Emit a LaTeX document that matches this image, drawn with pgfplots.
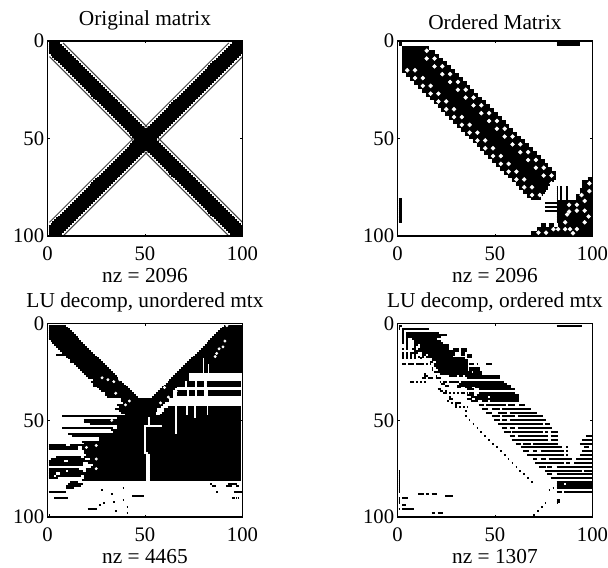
\documentclass[border=0pt]{standalone}
\usepackage{pgfplots}
\pgfplotsset{compat=1.18}
\usepackage{fontspec}
\setmainfont{Liberation Serif}
\newcommand\ft{\fontsize{16}{18}\selectfont}
\newcommand\ftk{\fontsize{15.5}{17}\selectfont}
\tikzset{spyrow/.style={black,line width=1.46pt},
 hole/.style={only marks,mark=*,mark size=1.45pt,white,mark options={draw=none,fill=white}}}
\pgfplotsset{spyaxis/.style={scale only axis,width=146.25pt,xmin=0,xmax=100,ymin=0,ymax=100,y dir=reverse,
 xtick={0,50,100},ytick={0,50,100},tick align=inside,major tick length=1.8pt,axis on top,
 axis line style={line width=0.9pt},tick style={black,line width=0.6pt},
 ticklabel style={font=\ftk},/pgf/number format/assume math mode=true,
 xticklabel style={yshift=-4.5pt},yticklabel style={xshift=1pt},
 title style={font=\ft,yshift=-1pt},xlabel style={font=\ft,yshift=1pt},
 runs/.style={spyrow,quiver={u=\thisrow{b}-\thisrow{a}+0.84,v=0}}}}
\begin{document}
\begin{tikzpicture}
\useasboundingbox (0,0) rectangle (456pt,426pt);
% ---------- Original matrix
\begin{axis}[spyaxis,height=146.25pt,at={(35.6pt,249pt)},anchor=south west,title={Original matrix},xlabel={nz = 2096}]
\addplot[black!75,line width=0.75pt,unbounded coords=jump] coordinates {(8,1)(100,93)(nan,nan)(1,8)(93,100)(nan,nan)(93,1)(1,93)(nan,nan)(100,8)(8,100)};
\addplot[runs] table[x expr=\thisrow{a}-0.42,y=r,row sep=\\] {a b r\\
1 6 1\\95 100 1\\1 7 2\\94 100 2\\1 8 3\\93 100 3\\1 9 4\\92 100 4\\1 10 5\\91 100 5\\1 11 6\\90 100 6\\2 12 7\\89 99 7\\3 13 8\\88 98 8\\4 14 9\\87 97 9\\5 15 10\\86 96 10\\
6 16 11\\85 95 11\\7 17 12\\84 94 12\\8 18 13\\83 93 13\\9 19 14\\82 92 14\\10 20 15\\81 91 15\\11 21 16\\80 90 16\\12 22 17\\79 89 17\\13 23 18\\78 88 18\\14 24 19\\77 87 19\\15 25 20\\76 86 20\\
16 26 21\\75 85 21\\17 27 22\\74 84 22\\18 28 23\\73 83 23\\19 29 24\\72 82 24\\20 30 25\\71 81 25\\21 31 26\\70 80 26\\22 32 27\\69 79 27\\23 33 28\\68 78 28\\24 34 29\\67 77 29\\25 35 30\\66 76 30\\
26 36 31\\65 75 31\\27 37 32\\64 74 32\\28 38 33\\63 73 33\\29 39 34\\62 72 34\\30 40 35\\61 71 35\\31 41 36\\60 70 36\\32 42 37\\59 69 37\\33 43 38\\58 68 38\\34 44 39\\57 67 39\\35 45 40\\56 66 40\\
36 46 41\\55 65 41\\37 47 42\\54 64 42\\38 48 43\\53 63 43\\39 49 44\\52 62 44\\40 61 45\\41 60 46\\42 59 47\\43 58 48\\44 57 49\\45 56 50\\45 56 51\\44 57 52\\43 58 53\\42 59 54\\41 60 55\\40 61 56\\
39 49 57\\52 62 57\\38 48 58\\53 63 58\\37 47 59\\54 64 59\\36 46 60\\55 65 60\\35 45 61\\56 66 61\\34 44 62\\57 67 62\\33 43 63\\58 68 63\\32 42 64\\59 69 64\\31 41 65\\60 70 65\\
30 40 66\\61 71 66\\29 39 67\\62 72 67\\28 38 68\\63 73 68\\27 37 69\\64 74 69\\26 36 70\\65 75 70\\25 35 71\\66 76 71\\24 34 72\\67 77 72\\23 33 73\\68 78 73\\22 32 74\\69 79 74\\21 31 75\\70 80 75\\
20 30 76\\71 81 76\\19 29 77\\72 82 77\\18 28 78\\73 83 78\\17 27 79\\74 84 79\\16 26 80\\75 85 80\\15 25 81\\76 86 81\\14 24 82\\77 87 82\\13 23 83\\78 88 83\\12 22 84\\79 89 84\\11 21 85\\80 90 85\\
10 20 86\\81 91 86\\9 19 87\\82 92 87\\8 18 88\\83 93 88\\7 17 89\\84 94 89\\6 16 90\\85 95 90\\5 15 91\\86 96 91\\4 14 92\\87 97 92\\3 13 93\\88 98 93\\2 12 94\\89 99 94\\1 11 95\\90 100 95\\
1 10 96\\91 100 96\\1 9 97\\92 100 97\\1 8 98\\93 100 98\\1 7 99\\94 100 99\\1 6 100\\95 100 100\\
};
\end{axis}
% ---------- Ordered matrix
\begin{axis}[spyaxis,height=146.25pt,at={(298.1pt,249pt)},anchor=south west,title={Ordered Matrix},xlabel={nz = 2096}]
\addplot[runs] table[x expr=\thisrow{a}-0.42,y=r,row sep=\\] {a b r\\
1 2 1\\82 93 1\\1 2 2\\82 93 2\\3 16 3\\3 16 4\\3 19 5\\3 19 6\\3 21 7\\3 21 8\\3 23 9\\3 23 10\\3 25 11\\3 25 12\\3 27 13\\3 27 14\\3 29 15\\3 29 16\\5 31 17\\5 31 18\\7 33 19\\7 33 20\\
9 35 21\\9 35 22\\11 37 23\\11 37 24\\13 39 25\\13 39 26\\15 41 27\\15 41 28\\17 43 29\\17 43 30\\19 45 31\\19 45 32\\21 47 33\\21 47 34\\23 49 35\\23 49 36\\25 51 37\\25 51 38\\27 53 39\\27 53 40\\
29 55 41\\29 55 42\\31 57 43\\31 57 44\\33 59 45\\33 59 46\\35 61 47\\35 61 48\\37 63 49\\37 63 50\\39 65 51\\39 65 52\\41 67 53\\41 67 54\\43 69 55\\43 69 56\\45 71 57\\45 71 58\\47 73 59\\47 73 60\\
49 75 61\\49 75 62\\51 77 63\\51 77 64\\53 79 65\\53 79 66\\55 81 67\\55 81 68\\57 81 69\\57 81 70\\59 81 71\\59 80 72\\61 79 73\\61 78 74\\63 77 75\\63 77 76\\65 76 77\\65 75 78\\67 74 79\\67 73 80\\69 73 81\\
98 100 70\\98 100 71\\95 100 72\\95 100 73\\95 100 74\\95 100 75\\94 100 76\\94 100 77\\94 100 78\\92 100 79\\92 100 80\\92 100 81\\
82 82 75\\84 84 75\\87 87 75\\82 82 76\\84 84 76\\87 87 76\\82 82 77\\84 84 77\\87 87 77\\82 82 78\\84 84 78\\87 87 78\\82 82 79\\84 84 79\\87 87 79\\82 82 80\\84 84 80\\87 87 80\\82 82 81\\84 84 81\\87 87 81\\
82 100 82\\76 100 83\\82 100 84\\76 100 85\\82 100 86\\76 100 87\\82 100 88\\82 100 89\\82 100 90\\82 100 91\\82 100 92\\82 100 93\\74 76 94\\78 80 94\\83 100 94\\74 76 95\\78 80 95\\83 100 95\\72 100 96\\72 100 97\\69 100 98\\69 100 99\\69 100 100\\
1 2 81\\1 2 82\\1 2 83\\1 2 84\\1 2 85\\1 2 86\\1 2 87\\1 2 88\\1 2 89\\1 2 90\\1 2 91\\1 2 92\\1 2 93\\
};
\addplot[hole] coordinates {(15,5)(15,9)(19,9)(19,13)(23,13)(23,17)(27,17)(27,21)(31,21)(31,25)(35,25)(35,29)(39,29)(39,33)(43,33)(43,37)(47,37)(47,41)(51,41)(51,45)(55,45)(55,49)(59,49)(59,53)(63,53)(63,57)(67,57)(67,61)(71,61)(71,65)(75,65)(75,69)(79,69)(79,73)
(5,15)(9,15)(9,19)(13,19)(13,23)(17,23)(17,27)(21,27)(21,31)(25,31)(25,35)(29,35)(29,39)(33,39)(33,43)(37,43)(37,47)(41,47)(41,51)(45,51)(45,55)(49,55)(49,59)(53,59)(53,63)(57,63)(57,67)(61,67)(61,71)(65,71)(65,75)(69,75)(69,79)(73,79)
(88,84)(92,84)(96,82)(96,87)(96,93)(98,90)(88,87.5)(87,89)(92,87)(86,93)(98.4,73)(98.4,77)(94.4,79)(82.4,96.5)(86,96.5)(88.5,96.5)(92,96.5)(90,98.6)(72.3,98.3)(76.2,98.3)(80,96.5)};
\end{axis}
% ---------- LU unordered
\begin{axis}[spyaxis,height=145pt,at={(35.6pt,38.25pt)},anchor=south west,title={LU decomp, unordered mtx},xlabel={nz = 4465}]
\addplot[runs] table[x expr=\thisrow{a}-0.42,y=r,row sep=\\] {a b r\\
1 9 1\\91 100 1\\1 10 2\\90 100 2\\1 11 3\\89 100 3\\1 12 4\\88 100 4\\1 13 5\\87 100 5\\1 14 6\\86 100 6\\1 15 7\\85 100 7\\1 16 8\\84 100 8\\2 17 9\\83 100 9\\3 18 10\\82 100 10\\
4 19 11\\81 100 11\\5 20 12\\80 100 12\\6 21 13\\79 100 13\\7 22 14\\78 100 14\\8 23 15\\77 100 15\\5 24 16\\76 100 16\\10 25 17\\75 100 17\\11 26 18\\74 100 18\\12 27 19\\73 100 19\\12 28 20\\72 100 20\\
14 29 21\\71 100 21\\15 30 22\\70 100 22\\16 31 23\\69 100 23\\17 32 24\\68 100 24\\18 33 25\\67 100 25\\19 34 26\\66 72 26\\20 35 27\\65 72 27\\21 36 28\\64 72 28\\24 37 29\\63 72 29\\
23 38 30\\62 70 30\\72 75 30\\77 80 30\\82 99 30\\24 39 31\\61 70 31\\72 75 31\\77 80 31\\82 99 31\\24 40 32\\60 70 32\\72 75 32\\77 80 32\\82 99 32\\26 41 33\\59 66 33\\27 42 34\\58 65 34\\
28 43 35\\57 64 35\\67 71 35\\73 75 35\\77 80 35\\83 99 35\\30 44 36\\56 64 36\\67 71 36\\73 75 36\\77 80 36\\83 99 36\\30 45 37\\55 64 37\\67 71 37\\73 75 37\\77 80 37\\83 99 37\\
31 46 38\\54 64 38\\38 62 39\\38 62 40\\39 60 41\\36 59 42\\37 58 43\\62 99 43\\35 56 44\\60 99 44\\37 56 45\\60 99 45\\38 55 46\\59 99 46\\40 55 47\\58 99 47\\
8 99 48\\36 51 49\\53 99 49\\19 51 50\\53 99 50\\19 51 51\\53 99 51\\22 51 52\\53 99 52\\36 49 53\\59 99 53\\8 33 54\\36 49 54\\51 99 54\\33 49 55\\51 99 55\\34 49 56\\51 99 56\\11 49 57\\51 99 57\\13 49 58\\51 99 58\\
27 49 59\\51 99 59\\27 49 60\\51 99 60\\18 49 61\\51 99 61\\19 49 62\\51 99 62\\1 9 63\\12 49 63\\51 99 63\\1 15 64\\18 49 64\\51 99 64\\1 15 65\\18 49 65\\51 99 65\\19 49 66\\51 99 66\\19 49 67\\52 99 67\\20 50 68\\53 99 68\\
5 17 69\\19 50 69\\53 99 69\\2 19 70\\22 50 70\\53 99 70\\1 8 71\\11 50 71\\53 99 71\\1 18 72\\21 50 72\\53 99 72\\1 18 73\\24 50 73\\53 99 73\\23 50 74\\53 99 74\\1 16 75\\20 50 75\\53 99 75\\1 9 76\\11 18 76\\20 50 76\\53 99 76\\
1 4 77\\7 50 77\\53 99 77\\1 4 78\\7 50 78\\53 99 78\\1 3 79\\5 17 79\\19 50 79\\53 99 79\\1 5 80\\19 50 80\\53 99 80\\18 50 81\\53 99 81\\
12 15 82\\11 18 83\\93 97 83\\84 84 83\\10 17 84\\85 86 84\\92 94 84\\97 98 84\\10 13 85\\39 39 85\\28 28 86\\1 9 87\\87 87 87\\96 100 87\\33 33 88\\44 49 89\\4 10 90\\95 95 90\\96 96 90\\97 97 90\\98 98 90\\39 39 91\\34 34 92\\29 29 93\\27 27 94\\41 41 95\\21 25 96\\35 35 97\\41 41 98\\1 1 99\\100 100 100\\
};
\addplot[white,line width=1.1pt,unbounded coords=jump] coordinates {(66,42)(66,57)(nan,nan)(71.5,42)(71.5,47)(nan,nan)(75.6,42)(75.6,49)(nan,nan)(82,42)(82,47)(nan,nan)(80,18)(80,26)(nan,nan)(82.5,21)(82.5,26)};
\addplot[hole,mark size=0.9pt] coordinates {(92,1)(91,9)(90,12)(88,13)(86.8,15.4)(86,17)(77,28)(60,33)(66,35)(62,38)(58,41)(28,28)(31,29)(34,30)(37,29)(35,36)(46,34)(40,42)(42,40)(61,19)(55,25)(33,50)(25,63)(20,64)(25,70)(25,75)};
\end{axis}
% ---------- LU ordered
\begin{axis}[spyaxis,height=145pt,at={(298.1pt,38.25pt)},anchor=south west,title={LU decomp, ordered mtx},xlabel={nz = 1307}]
\addplot[runs] table[x expr=\thisrow{a}-0.42,y=r,row sep=\\] {a b r\\
1 2 1\\82 94 1\\1 1 2\\1 1 3\\3 16 3\\3 3 4\\3 3 5\\5 21 5\\3 3 6\\5 25 6\\3 3 7\\5 22 7\\3 3 8\\5 5 8\\8 20 8\\3 3 9\\5 5 9\\9 22 9\\3 3 10\\5 5 10\\9 23 10\\
5 5 11\\9 10 11\\12 26 11\\5 5 12\\9 9 12\\12 26 12\\3 3 13\\5 5 13\\8 9 13\\11 26 13\\29 31 13\\33 35 13\\9 28 14\\29 31 14\\33 35 14\\3 3 15\\5 5 15\\7 8 15\\9 10 15\\13 29 15\\33 34 15\\
3 3 16\\5 5 16\\7 7 16\\9 9 16\\13 14 16\\16 29 16\\33 34 16\\36 38 16\\3 3 17\\5 5 17\\7 7 17\\9 9 17\\11 11 17\\13 13 17\\15 15 17\\16 28 17\\36 38 17\\3 3 18\\5 5 18\\7 7 18\\9 9 18\\12 12 18\\18 34 18\\
18 36 19\\17 18 20\\20 36 20\\3 4 21\\6 7 21\\8 8 21\\10 13 21\\15 15 21\\17 17 21\\19 36 21\\37 39 21\\41 41 21\\46 48 21\\19 36 22\\18 18 23\\20 36 23\\37 42 23\\18 18 24\\21 36 24\\37 42 24\\19 38 25\\39 43 25\\14 14 26\\22 43 26\\
14 15 27\\20 20 27\\27 30 27\\32 33 27\\35 52 27\\13 14 28\\16 18 28\\20 22 28\\36 52 28\\7 8 30\\10 10 30\\12 12 30\\14 14 30\\22 22 30\\24 25 30\\27 29 30\\30 31 30\\33 54 30\\23 24 31\\32 56 31\\
25 26 32\\31 32 32\\33 58 32\\31 32 33\\35 38 33\\40 58 33\\21 22 34\\36 39 34\\42 60 34\\22 23 35\\25 25 35\\24 25 36\\27 27 36\\29 29 36\\31 31 36\\33 34 36\\36 36 36\\37 39 36\\42 60 36\\36 39 37\\41 62 37\\27 27 38\\38 46 38\\48 62 38\\
27 28 39\\36 38 39\\40 62 39\\38 41 40\\44 46 40\\48 62 40\\30 32 41\\42 44 42\\46 55 42\\57 60 42\\63 65 42\\30 30 43\\32 32 43\\34 34 43\\36 36 43\\44 46 44\\49 52 44\\54 68 44\\35 35 45\\46 48 46\\52 56 46\\58 71 46\\49 52 48\\54 60 48\\62 74 48\\
50 52 50\\54 56 50\\58 76 50\\52 70 52\\71 74 52\\76 78 52\\54 56 54\\58 60 54\\62 79 54\\55 58 56\\59 74 56\\76 77 56\\79 82 56\\58 60 58\\62 64 58\\65 77 58\\79 82 58\\97 100 58\\59 77 60\\79 82 60\\95 100 60\\
61 63 62\\65 68 62\\70 82 62\\94 100 62\\64 82 64\\83 84 64\\87 87 64\\96 98 64\\65 67 66\\70 71 66\\74 85 66\\87 87 66\\95 100 66\\67 82 68\\83 85 68\\87 87 68\\94 100 68\\70 71 70\\74 76 70\\78 89 70\\92 100 70\\
71 82 72\\83 85 72\\87 88 72\\91 100 72\\73 76 74\\77 79 74\\82 100 74\\76 94 76\\96 100 76\\77 79 78\\82 100 78\\79 95 80\\96 100 80\\82 100 82\\82 85 83\\87 100 83\\82 100 84\\82 100 85\\78 78 86\\80 80 85\\82 84 87\\86 100 87\\
82 83 91\\82 83 92\\82 82 93\\76 76 93\\74 74 95\\72 72 97\\70 70 99\\
26 26 40\\28 28 41\\30 30 42\\35 35 48\\37 37 50\\39 39 52\\41 41 54\\43 43 56\\45 45 58\\47 47 60\\49 49 62\\51 51 64\\53 53 66\\55 55 68\\57 57 70\\59 59 72\\61 61 74\\63 63 76\\65 65 78\\67 67 80\\69 69 82\\
1 1 76\\1 1 77\\1 1 78\\1 1 79\\1 1 80\\1 1 81\\1 1 82\\1 1 83\\1 1 84\\1 1 85\\1 1 86\\1 1 87\\1 1 90\\1 1 91\\3 5 90\\1 1 92\\1 1 93\\3 4 94\\1 1 96\\3 8 96\\18 19 98\\21 23 98\\
11 13 88\\15 16 88\\18 20 88\\25 28 89\\
};
\end{axis}
\end{tikzpicture}
\end{document}
